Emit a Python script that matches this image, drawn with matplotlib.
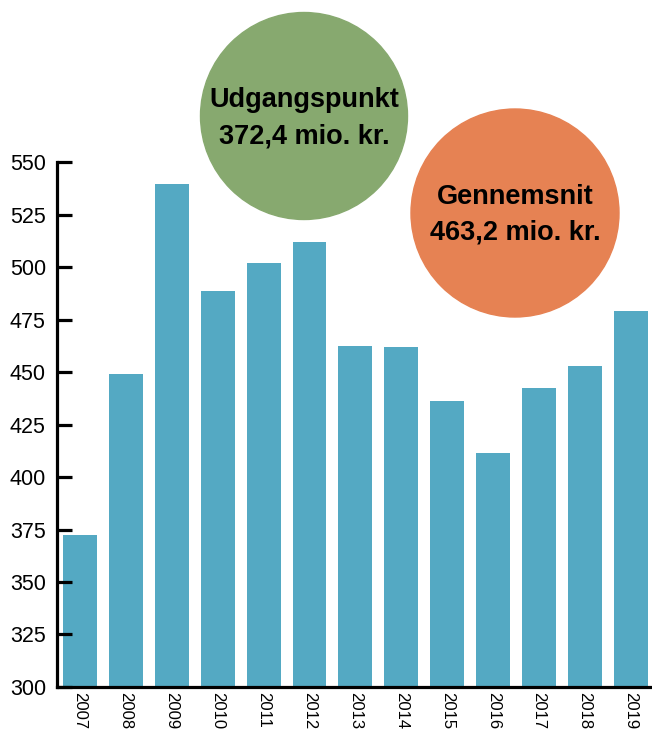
import numpy as np
import matplotlib
matplotlib.use('Agg')
import matplotlib.pyplot as plt
from matplotlib.patches import Circle

plt.rcParams['font.family'] = ['Liberation Sans', 'DejaVu Sans']

# data
years = ['2007', '2008', '2009', '2010', '2011', '2012', '2013',
         '2014', '2015', '2016', '2017', '2018', '2019']
values = [372.4, 449.0, 539.5, 488.6, 501.9, 511.9, 462.4,
          461.9, 436.2, 411.4, 442.4, 452.9, 479.0]
start_label = 'Udgangspunkt\n372,4 mio. kr.'
avg_label = 'Gennemsnit\n463,2 mio. kr.'

bar_color = '#54A9C3'
green = '#87A96F'
orange = '#E68253'

fig = plt.figure(figsize=(6.52, 7.33), dpi=100)
ax = fig.add_axes([0.0874, 0.0628, 0.9126, 0.716])

x = np.arange(len(years))
ax.bar(x, np.array(values) - 300, bottom=300, width=0.74, color=bar_color)

ax.set_xlim(-0.5, 12.46)
ax.set_ylim(300, 550)
ax.set_yticks(np.arange(300, 551, 25))
ax.set_xticks(x)
ax.set_xticklabels(years, rotation=270, fontsize=12)

for s in ['top', 'right']:
    ax.spines[s].set_visible(False)
ax.spines['left'].set_linewidth(2.3)
ax.spines['bottom'].set_linewidth(2.3)
ax.tick_params(axis='y', direction='in', length=11, width=2.3, pad=8, labelsize=15.5)
ax.tick_params(axis='x', length=0, pad=3.5)

# circles above the plot
c1 = Circle((3.04, 6.17), 1.035, transform=fig.dpi_scale_trans, color=green, zorder=5)
c2 = Circle((5.15, 5.20), 1.04, transform=fig.dpi_scale_trans, color=orange, zorder=5)
fig.patches.extend([c1, c2])

fig.text(3.045 / 6.52, 6.15 / 7.33, start_label, ha='center', va='center',
         fontsize=19.5, fontweight='bold', linespacing=1.5, zorder=6)
fig.text(5.15 / 6.52, 5.18 / 7.33, avg_label, ha='center', va='center',
         fontsize=19.5, fontweight='bold', linespacing=1.5, zorder=6)

fig.savefig('out.png', dpi=100)
